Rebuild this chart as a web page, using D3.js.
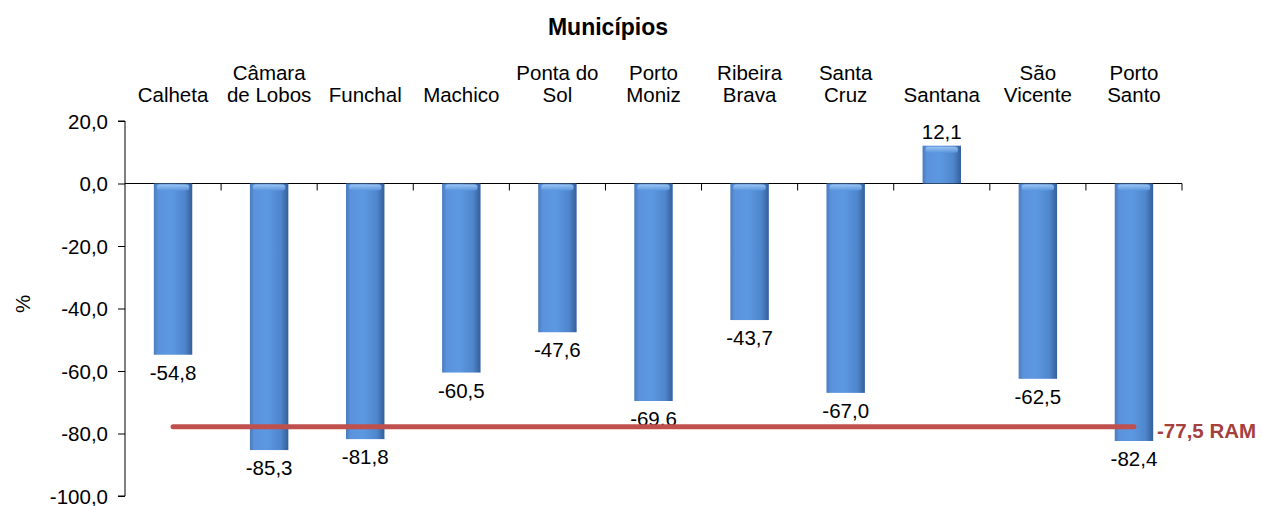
<!DOCTYPE html>
<html><head><meta charset="utf-8">
<script src="https://cdn.jsdelivr.net/npm/d3@7"></script>
<style>body{margin:0;background:#fff}svg{display:block}text{font-family:"Liberation Sans",Arial,sans-serif}</style>
</head><body><svg id="c" width="1262" height="506"></svg>
<script>
const categories = [["Calheta"],["Câmara","de Lobos"],["Funchal"],["Machico"],["Ponta do","Sol"],["Porto","Moniz"],["Ribeira","Brava"],["Santa","Cruz"],["Santana"],["São","Vicente"],["Porto","Santo"]];
const values = [-54.8,-85.3,-81.8,-60.5,-47.6,-69.6,-43.7,-67.0,12.1,-62.5,-82.4];
const ramValue = -77.5;
const yTicks = [20,0,-20,-40,-60,-80,-100];
const fmt = v => d3.format(".1f")(v).replace(".",",").replace("\u2212","-");
const FS = 20.5;

const svg = d3.select("#c");
const x = d3.scaleBand().domain(d3.range(categories.length)).range([125,1182]).paddingInner(0.6).paddingOuter(0.3);
const y = d3.scaleLinear().domain([-100,20]).range([496,121]);

const defs = svg.append("defs");
const g1 = defs.append("linearGradient").attr("id","bar").attr("x1","0").attr("x2","1").attr("y1","0").attr("y2","0");
[["0%","#4a7cc0"],["12%","#5b93db"],["45%","#5c98e2"],["80%","#4f86cc"],["100%","#345f9b"]].forEach(s=>g1.append("stop").attr("offset",s[0]).attr("stop-color",s[1]));
const g2 = defs.append("linearGradient").attr("id","cap").attr("x1","0").attr("x2","0").attr("y1","0").attr("y2","1");
[["0%","#a6ccf5"],["100%","#5b97e0"]].forEach(s=>g2.append("stop").attr("offset",s[0]).attr("stop-color",s[1]));

// title
svg.append("text").attr("x",608).attr("y",35).attr("text-anchor","middle").attr("font-weight","bold").attr("font-size",23).text("Municípios");

// y axis
const yAxis = d3.axisLeft(y).tickValues(yTicks).tickSize(7).tickFormat(fmt);
const ya = svg.append("g").attr("transform","translate(125,0)").call(yAxis);
ya.select(".domain").attr("stroke","#000").attr("d","M-7,121H0V496H-7");
ya.selectAll("text").attr("font-size",FS).attr("fill","#000").attr("x",-17).attr("dy","0.36em");
ya.selectAll("line").attr("stroke","#000");

// x axis at zero, with ticks at boundaries
const boundaries = d3.range(categories.length+1).map(i => 125 + i*(1182-125)/categories.length);
svg.append("line").attr("x1",125).attr("x2",1182).attr("y1",y(0)).attr("y2",y(0)).attr("stroke","#000");
svg.selectAll(".xt").data(boundaries.slice(1)).enter().append("line").attr("x1",d=>d).attr("x2",d=>d).attr("y1",y(0)).attr("y2",y(0)+7).attr("stroke","#000");

// category labels at top
categories.forEach((c,i)=>{
  const cx = x(i)+x.bandwidth()/2;
  const t = svg.append("text").attr("text-anchor","middle").attr("font-size",FS);
  const baseY = c.length===1 ? 102 : 80;
  c.forEach((line,j)=>t.append("tspan").attr("x",cx).attr("y",baseY+j*22).text(line));
});

// bars
const bars = svg.selectAll(".bar").data(values).enter().append("g");
bars.append("rect").attr("x",(d,i)=>x(i)).attr("width",x.bandwidth())
  .attr("y",d=>y(Math.max(0,d))).attr("height",d=>Math.abs(y(d)-y(0)))
  .attr("fill","url(#bar)");
bars.append("rect").attr("x",(d,i)=>x(i)+3).attr("width",x.bandwidth()-6)
  .attr("y",d=>y(Math.max(0,d))+1).attr("height",6).attr("rx",3)
  .attr("fill","url(#cap)").attr("opacity",0.85);

// value labels
svg.selectAll(".vl").data(values).enter().append("text").attr("text-anchor","middle").attr("font-size",FS)
  .attr("x",(d,i)=>x(i)+x.bandwidth()/2)
  .attr("y",d=> d<0 ? y(d)+25 : y(d)-7).text(d=>fmt(d));

// RAM line
const x0 = x(0)+x.bandwidth()/2, x1 = x(categories.length-1)+x.bandwidth()/2;
svg.append("line").attr("x1",x0).attr("x2",x1).attr("y1",y(ramValue)+1).attr("y2",y(ramValue)+1)
  .attr("stroke","#c0504d").attr("stroke-width",5).attr("stroke-linecap","round");
svg.append("text").attr("x",1157).attr("y",y(ramValue)+12).attr("font-size",FS).attr("font-weight","bold").attr("fill","#a5403d").text(fmt(ramValue)+" RAM");

// y title
svg.append("text").attr("transform","translate(30,304) rotate(-90)").attr("text-anchor","middle").attr("font-size",FS).text("%");
</script></body></html>
